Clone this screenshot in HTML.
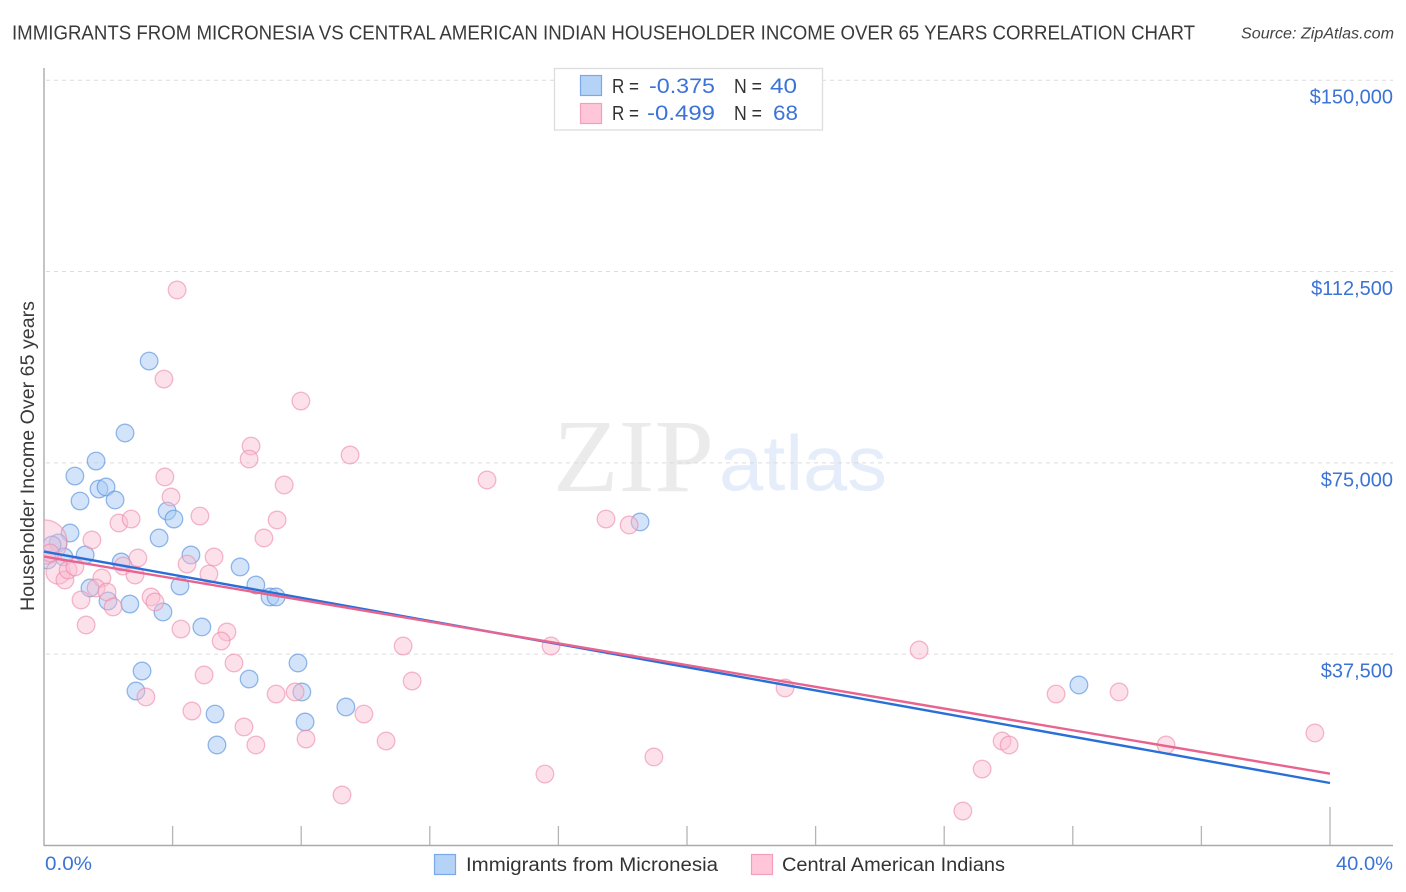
<!DOCTYPE html>
<html lang="en">
<head>
<meta charset="utf-8">
<title>Immigrants from Micronesia vs Central American Indian Householder Income Over 65 Years Correlation Chart</title>
<style>
html,body{margin:0;padding:0;background:#fff;width:1406px;height:892px;overflow:hidden}
svg{display:block;font-family:"Liberation Sans",sans-serif}
</style>
</head>
<body>
<svg id="chart" width="1406" height="892" viewBox="0 0 1406 892" xmlns="http://www.w3.org/2000/svg">
  <defs>
    <clipPath id="plot-clip"><rect x="44" y="60" width="1350" height="786"/></clipPath>
  </defs>
  <text x="12" y="39.5" font-size="20" fill="#3a3a3a" textLength="1183" lengthAdjust="spacingAndGlyphs">IMMIGRANTS FROM MICRONESIA VS CENTRAL AMERICAN INDIAN HOUSEHOLDER INCOME OVER 65 YEARS CORRELATION CHART</text>
  <text x="1241" y="38.5" font-size="15.5" font-style="italic" fill="#444" textLength="153" lengthAdjust="spacingAndGlyphs">Source: ZipAtlas.com</text>

  <g>
    <text x="553" y="491" font-family="'Liberation Serif',serif" font-size="104" fill="#ebebeb" textLength="161" lengthAdjust="spacingAndGlyphs">ZIP</text>
    <text x="719" y="490" font-size="78" fill="#e4edf9" textLength="168" lengthAdjust="spacingAndGlyphs">atlas</text>
  </g>

  <g id="grid"></g>
  <g id="axes"></g>
  <g id="points" clip-path="url(#plot-clip)"></g>
  <g id="trends"></g>
  <g id="ylabels"></g>

  <text transform="translate(34,611) rotate(-90)" font-size="19" fill="#3a3a3a" textLength="310" lengthAdjust="spacingAndGlyphs">Householder Income Over 65 years</text>
  <text x="45" y="870" font-size="19.5" fill="#3b73d6" textLength="47" lengthAdjust="spacingAndGlyphs">0.0%</text>
  <text x="1336" y="870" font-size="19.5" fill="#3b73d6" textLength="57" lengthAdjust="spacingAndGlyphs">40.0%</text>

  <g>
    <rect x="554.5" y="68.5" width="268" height="61.5" fill="#fff" stroke="#ddd" stroke-width="1.3"/>
    <rect x="580.5" y="75.5" width="21" height="20" fill="#b5d2f7" stroke="#7ba8e6" stroke-width="1.2"/>
    <rect x="580.5" y="103.5" width="21" height="20" fill="#fec6d8" stroke="#f2a0ba" stroke-width="1.2"/>
    <text x="612" y="93" font-size="20.5" fill="#333" textLength="27" lengthAdjust="spacingAndGlyphs">R =</text>
    <text x="649" y="93" font-size="21.5" fill="#3b73d6" textLength="66" lengthAdjust="spacingAndGlyphs">-0.375</text>
    <text x="734" y="93" font-size="20.5" fill="#333" textLength="28" lengthAdjust="spacingAndGlyphs">N =</text>
    <text x="770" y="93" font-size="21.5" fill="#3b73d6" textLength="27" lengthAdjust="spacingAndGlyphs">40</text>
    <text x="612" y="120" font-size="20.5" fill="#333" textLength="27" lengthAdjust="spacingAndGlyphs">R =</text>
    <text x="647" y="120" font-size="21.5" fill="#3b73d6" textLength="68" lengthAdjust="spacingAndGlyphs">-0.499</text>
    <text x="734" y="120" font-size="20.5" fill="#333" textLength="28" lengthAdjust="spacingAndGlyphs">N =</text>
    <text x="773" y="120" font-size="21.5" fill="#3b73d6" textLength="25" lengthAdjust="spacingAndGlyphs">68</text>
  </g>

  <g>
    <g>
      <rect x="434.5" y="854.5" width="21" height="20" fill="#b5d2f7" stroke="#7ba8e6" stroke-width="1.2"/>
      <text x="466" y="871" font-size="19" fill="#333" textLength="252" lengthAdjust="spacingAndGlyphs">Immigrants from Micronesia</text>
    </g>
    <g>
      <rect x="751.5" y="854.5" width="21" height="20" fill="#fec6d8" stroke="#f2a0ba" stroke-width="1.2"/>
      <text x="782" y="871" font-size="19" fill="#333" textLength="223" lengthAdjust="spacingAndGlyphs">Central American Indians</text>
    </g>
  </g>
</svg>

<script>
// Chart data: x in percent, y in thousands of dollars
const yTickValues = [37.5, 75, 112.5, 150];
const yTickLabels = ["$37,500", "$75,000", "$112,500", "$150,000"];
const xTickValues = [0, 4, 8, 12, 16, 20, 24, 28, 32, 36, 40];
const blueX = [3.27,2.52,1.62,0.96,1.12,1.71,1.93,2.21,0.81,0.44,0.25,0.12,0.62,1.28,2.40,1.43,1.99,2.67,3.58,3.70,3.83,4.04,4.57,4.23,6.10,6.59,7.03,7.22,4.91,3.05,2.86,5.32,5.38,6.38,7.90,8.02,8.12,9.39,18.54,32.19];
const blueY = [94.96,80.85,75.36,72.42,67.52,69.87,70.27,67.72,61.25,59.29,58.90,55.96,56.55,56.94,55.57,50.47,47.92,47.33,60.27,45.77,65.56,63.99,56.94,50.86,54.59,51.06,48.71,48.71,42.83,34.20,30.28,25.77,19.70,32.63,35.77,30.09,24.21,27.15,63.41,31.46];
const pinkX = [0.03,2.33,2.71,1.49,2.92,2.46,2.83,1.80,1.62,1.96,1.15,2.15,3.33,3.45,1.31,0.44,0.65,0.75,0.96,4.14,3.73,7.99,6.44,6.38,9.52,7.47,7.25,6.84,3.76,3.95,4.85,5.29,4.45,5.13,13.78,17.48,18.20,4.26,5.69,5.51,5.91,4.98,3.17,4.60,6.22,6.59,7.22,7.81,8.15,9.95,10.64,9.27,11.17,11.45,15.77,15.58,18.97,23.05,27.22,31.48,33.44,34.90,39.53,28.58,29.18,29.80,30.02,0.19];
const pinkY = [59.49,63.21,63.99,59.88,56.35,54.78,53.02,52.43,50.47,49.69,48.12,46.75,48.71,47.73,43.22,53.61,52.04,54.00,54.59,108.88,91.43,87.12,78.30,75.75,76.54,70.66,63.80,60.27,72.23,68.31,64.58,56.55,55.17,53.21,71.64,63.99,62.82,42.43,41.85,40.08,35.77,33.42,29.11,26.36,23.23,19.70,29.69,30.09,20.87,25.77,20.48,9.90,39.10,32.24,39.10,14.01,17.35,30.87,38.32,29.69,30.09,19.70,22.05,6.76,14.99,20.48,19.70,57.33];
const pinkWeight = [6.25,1,1,1,1,1,1,1,1,1,1,1,1,1,1,1.9,1,1,1,1,1,1,1,1,1,1,1,1,1,1,1,1,1,1,1,1,1,1,1,1,1,1,1,1,1,1,1,1,1,1,1,1,1,1,1,1,1,1,1,1,1,1,1,1,1,1,1,1];
const trendX = [0, 40];
const blueTrendY = [57.62, 12.25];
const pinkTrendY = [56.64, 14.07];

const NS = "http://www.w3.org/2000/svg";
const xScale = v => 44 + v * 32.15;
const yScale = v => 845.5 - v * 5.102;
const baseR = 8.8;

function make(tag, parent, attrs) {
  const el = document.createElementNS(NS, tag);
  for (const k in attrs) el.setAttribute(k, attrs[k]);
  document.getElementById(parent).appendChild(el);
  return el;
}

yTickValues.forEach(function (v, i) {
  const line = make("line", "grid", {x1: 46, x2: 1393, y1: yScale(v), y2: yScale(v), stroke: "#dcdcdc", "stroke-width": 1, "stroke-dasharray": "4 4"});
  
  
  const label = make("text", "ylabels", {x: 1393, y: yScale(v) + 23.5, "text-anchor": "end", "font-size": 20, fill: "#3b73d6"});
  label.textContent = yTickLabels[i];
  
  
});

const yAxis = make("line", "axes", {x1: 44, x2: 44, y1: 68, y2: 846, stroke: "#aaa", "stroke-width": 1.4});


const xAxis = make("line", "axes", {x1: 44, x2: 1393, y1: 845.5, y2: 845.5, stroke: "#aaa", "stroke-width": 1.4});



xTickValues.forEach(function (v, i) {
  if (i === 0) return;
  const top = i === xTickValues.length - 1 ? 807 : 826;
  const tick = make("line", "axes", {x1: xScale(v), x2: xScale(v), y1: top, y2: 845, stroke: "#b5b5b5", "stroke-width": 1.3});
  
  
});

blueX.forEach(function (v, i) {
  const c = make("circle", "points", {cx: xScale(v), cy: yScale(blueY[i]), r: baseR, fill: "#a8c9f5", "fill-opacity": 0.5, stroke: "#5b93dd", "stroke-opacity": 0.65, "stroke-width": 1.3});
  
  
});

pinkX.forEach(function (v, i) {
  const c = make("circle", "points", {cx: xScale(v), cy: yScale(pinkY[i]), r: baseR * Math.sqrt(pinkWeight[i]), fill: "#fbbcd0", "fill-opacity": 0.45, stroke: "#ec8aa8", "stroke-opacity": 0.6, "stroke-width": 1.3});
  
  
});

const blueLine = make("line", "trends", {x1: xScale(trendX[0]), x2: xScale(trendX[1]), y1: yScale(blueTrendY[0]), y2: yScale(blueTrendY[1]), stroke: "#2a6fd8", "stroke-width": 2.4});


const pinkLine = make("line", "trends", {x1: xScale(trendX[0]), x2: xScale(trendX[1]), y1: yScale(pinkTrendY[0]), y2: yScale(pinkTrendY[1]), stroke: "#e8648f", "stroke-width": 2.4});


</script>
</body>
</html>
